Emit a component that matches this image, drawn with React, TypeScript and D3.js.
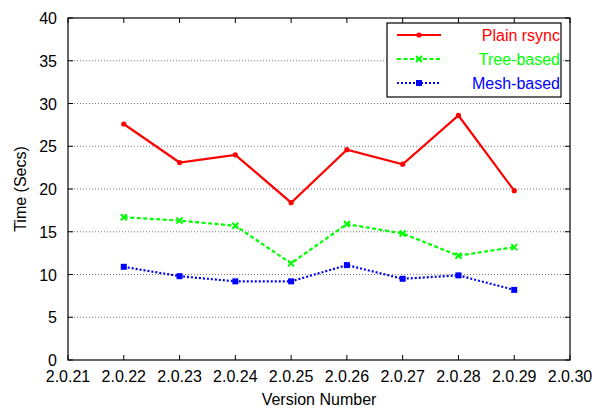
import React, { useEffect, useRef } from "react";
import * as d3 from "d3";

const versions = ["2.0.21", "2.0.22", "2.0.23", "2.0.24", "2.0.25", "2.0.26", "2.0.27", "2.0.28", "2.0.29", "2.0.30"];
const dataVersions = ["2.0.22", "2.0.23", "2.0.24", "2.0.25", "2.0.26", "2.0.27", "2.0.28", "2.0.29"];
const plainRsync = [27.6, 23.1, 24.0, 18.4, 24.6, 22.9, 28.6, 19.8];
const treeBased = [16.7, 16.3, 15.7, 11.3, 15.9, 14.8, 12.2, 13.2];
const meshBased = [10.9, 9.8, 9.2, 9.2, 11.1, 9.5, 9.9, 8.2];
const yTicks = [0, 5, 10, 15, 20, 25, 30, 35, 40];

const seriesList = [
  { name: "Plain rsync", values: plainRsync, color: "#ff0000", dash: "", marker: "plus" },
  { name: "Tree-based", values: treeBased, color: "#00ff00", dash: "4,2.5", marker: "cross" },
  { name: "Mesh-based", values: meshBased, color: "#0000ff", dash: "2,2", marker: "square" },
];

const W = 597;
const H = 414;
const margin = { top: 18, right: 27, bottom: 54, left: 68 };
const FONT = "'Liberation Sans', Arial, Helvetica, sans-serif";

export default function App() {
  const ref = useRef<SVGSVGElement>(null);

  useEffect(() => {
    if (!ref.current) return;
    const svg = d3.select(ref.current);
    svg.selectAll("*").remove();

    const x = d3
      .scalePoint<string>()
      .domain(versions)
      .range([margin.left, W - margin.right]);
    const y = d3
      .scaleLinear()
      .domain([0, 40])
      .range([H - margin.bottom, margin.top]);

    const left = margin.left;
    const right = W - margin.right;
    const top = margin.top;
    const bottom = H - margin.bottom;

    // gridlines (horizontal only)
    svg
      .append("g")
      .selectAll("line")
      .data(yTicks.slice(1, -1))
      .join("line")
      .attr("x1", left)
      .attr("x2", right)
      .attr("y1", (d) => y(d))
      .attr("y2", (d) => y(d))
      .attr("stroke", "#555")
      .attr("stroke-width", 0.8)
      .attr("stroke-dasharray", "1,2");

    // ticks, gnuplot style (inward, mirrored)
    const tk = 5;
    const ticks = svg.append("g").attr("stroke", "#000").attr("stroke-width", 1);
    yTicks.forEach((t) => {
      ticks.append("line").attr("x1", left).attr("x2", left + tk).attr("y1", y(t)).attr("y2", y(t));
      ticks.append("line").attr("x1", right).attr("x2", right - tk).attr("y1", y(t)).attr("y2", y(t));
    });
    versions.forEach((v) => {
      ticks.append("line").attr("x1", x(v)!).attr("x2", x(v)!).attr("y1", bottom).attr("y2", bottom - tk);
      ticks.append("line").attr("x1", x(v)!).attr("x2", x(v)!).attr("y1", top).attr("y2", top + tk);
    });

    // border
    svg
      .append("rect")
      .attr("x", left)
      .attr("y", top)
      .attr("width", right - left)
      .attr("height", bottom - top)
      .attr("fill", "none")
      .attr("stroke", "#000")
      .attr("stroke-width", 1.2);

    // tick labels
    svg
      .append("g")
      .selectAll("text")
      .data(yTicks)
      .join("text")
      .attr("x", left - 11)
      .attr("y", (d) => y(d) + 6)
      .attr("text-anchor", "end")
      .style("font", `16px ${FONT}`)
      .attr("fill", "#000")
      .text((d) => d);

    svg
      .append("g")
      .selectAll("text")
      .data(versions)
      .join("text")
      .attr("x", (d) => x(d)!)
      .attr("y", bottom + 22)
      .attr("text-anchor", "middle")
      .style("font", `16px ${FONT}`)
      .attr("fill", "#000")
      .text((d) => d);

    // axis titles
    svg
      .append("text")
      .attr("x", (left + right) / 2)
      .attr("y", 405)
      .attr("text-anchor", "middle")
      .style("font", `16px ${FONT}`)
      .text("Version Number");

    svg
      .append("text")
      .attr("transform", `translate(26,${(top + bottom) / 2}) rotate(-90)`)
      .attr("text-anchor", "middle")
      .style("font", `16px ${FONT}`)
      .text("Time (Secs)");

    const drawMarker = (g: any, cx: number, cy: number, kind: string, color: string) => {
      if (kind === "plus") {
        g.append("circle").attr("cx", cx).attr("cy", cy).attr("r", 2.6).attr("fill", color);
      } else if (kind === "cross") {
        const s = 3;
        g.append("path")
          .attr("d", `M${cx - s},${cy - s}L${cx + s},${cy + s}M${cx - s},${cy + s}L${cx + s},${cy - s}`)
          .attr("stroke", color)
          .attr("stroke-width", 2)
          .attr("fill", "none");
      } else {
        g.append("rect")
          .attr("x", cx - 3)
          .attr("y", cy - 3)
          .attr("width", 6)
          .attr("height", 6)
          .attr("fill", color);
      }
    };

    const line = d3
      .line<number>()
      .x((_, i) => x(dataVersions[i])!)
      .y((d) => y(d));

    seriesList.forEach((s) => {
      const g = svg.append("g");
      g.append("path")
        .attr("d", line(s.values)!)
        .attr("fill", "none")
        .attr("stroke", s.color)
        .attr("stroke-width", 2.2)
        .attr("stroke-dasharray", s.dash || null)
        .attr("stroke-linejoin", "miter");
      s.values.forEach((v, i) => drawMarker(g, x(dataVersions[i])!, y(v), s.marker, s.color));
    });

    // legend
    const lg = svg.append("g");
    lg.append("rect")
      .attr("x", 387)
      .attr("y", 23)
      .attr("width", 174)
      .attr("height", 74)
      .attr("fill", "#fff")
      .attr("stroke", "#000")
      .attr("stroke-width", 1.2);
    seriesList.forEach((s, i) => {
      const ly = 35 + i * 24;
      lg.append("line")
        .attr("x1", 397)
        .attr("x2", 441)
        .attr("y1", ly)
        .attr("y2", ly)
        .attr("stroke", s.color)
        .attr("stroke-width", 2.2)
        .attr("stroke-dasharray", s.dash || null);
      drawMarker(lg, 419, ly, s.marker, s.color);
      lg.append("text")
        .attr("x", 560)
        .attr("y", ly + 6)
        .attr("text-anchor", "end")
        .style("font", `16px ${FONT}`)
        .attr("fill", s.color)
        .text(s.name);
    });
  }, []);

  return (
    <div style={{ position: "absolute", left: 0, top: 0 }}>
      <svg ref={ref} width={W} height={H} style={{ display: "block", background: "#fff" }} />
    </div>
  );
}
